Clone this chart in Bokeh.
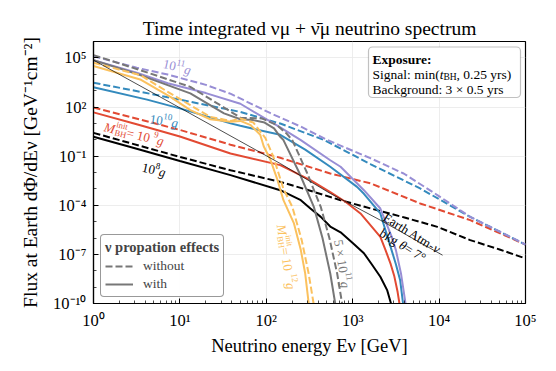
import math
from bokeh.plotting import figure
from bokeh.models import (Label, BoxAnnotation, Legend, LegendItem, FixedTicker,
                          CustomJSTickFormatter)
from bokeh.embed import file_html
from bokeh.resources import INLINE

# ---------------- data ----------------
# M_BH = 1e8 g
E_8_without = [1, 10, 38.5, 145, 316, 724, 1622, 3981, 9550, 22909, 50119, 1e5]
F_8_without = [2.63, 0.0891, 0.0138, 2.69e-3, 7.94e-4, 2.04e-4, 6.31e-5, 1.78e-5, 4.79e-6, 7.41e-7, 2.0e-7, 5.62e-8]
E_8_with = [1, 3.16, 10, 38.5, 145, 251, 324, 427, 550, 724, 1000, 1349, 1660, 2089, 2512, 2951]
F_8_with = [1.51, 0.282, 0.0501, 6.92e-3, 8.32e-4, 2.04e-4, 6.31e-5, 1.95e-5, 5.01e-6, 2.24e-6, 5.01e-7, 1.17e-7, 2.51e-8, 4.27e-9, 6.31e-10, 3.16e-11]

# M_BH = 1e9 g
E_9_without = [1, 10, 38.5, 145, 550, 1622, 6026, 22909, 1e5]
F_9_without = [93.3, 3.98, 0.501, 0.0794, 8.71e-3, 2.14e-3, 1.29e-4, 1.23e-5, 3.98e-7]
E_9_with = [1, 3.16, 10, 38.5, 145, 324, 550, 832, 1230, 2089, 2399, 2754, 3020, 3311, 3548]
F_9_with = [46.8, 8.91, 1.58, 0.145, 0.0282, 3.39e-3, 6.31e-4, 1.58e-4, 3.16e-5, 1.17e-6, 1.82e-7, 2.51e-8, 5.01e-9, 5.01e-10, 5.01e-11]

# M_BH = 1e10 g
E_10_without = [1, 3.47, 13.2, 50.1, 145, 468, 1622, 6026, 22909, 1e5]
F_10_without = [3020, 851, 209, 50.1, 9.77, 0.955, 0.0316, 1.07e-3, 1.95e-5, 3.98e-7]
E_10_with = [1, 4.17, 10.2, 38.5, 50.1, 145, 282, 550, 1122, 1349, 2089, 2818, 3162, 3548, 3890]
F_10_with = [1585, 282, 79.4, 10.0, 7.08, 2.0, 0.251, 0.0224, 1.32e-3, 5.01e-4, 3.16e-5, 1.82e-7, 2.51e-8, 2.51e-9, 5.01e-11]

# M_BH = 1e11 g
E_11_without = [1, 3.16, 7.24, 20.0, 38.9, 112, 251, 501, 1622, 3890, 9550, 22909, 1e5]
F_11_without = [1.26e5, 2.51e4, 9.55e3, 2.24e3, 631, 41.7, 6.31, 1.0, 0.0724, 8.71e-3, 4.17e-4, 1.95e-5, 3.98e-7]
E_11_with = [1, 3.16, 7.24, 20.0, 50.1, 145, 251, 550, 724, 1349, 2089, 2818, 3162, 3631, 4169]
F_11_with = [7.24e4, 1.26e4, 2.82e3, 708, 158, 5.62, 0.955, 0.0562, 0.0224, 8.32e-4, 6.31e-5, 1.26e-6, 1.82e-7, 6.31e-9, 5.01e-11]

# M_BH = 5e11 g
E_5e11_without = [1, 3.47, 13.2, 29.5, 50.1, 89.1, 132, 170, 200, 295, 427, 537, 661, 776]
F_5e11_without = [1.48e5, 1.78e4, 1.70e3, 126, 22.4, 20.0, 7.94, 2.51, 0.955, 0.01, 7.94e-5, 1e-6, 6.76e-9, 3.98e-11]
E_5e11_with = [1, 3.47, 13.2, 32.4, 50.1, 70.8, 95.5, 123, 145, 158, 240, 355, 447, 550, 646]
F_5e11_with = [7.24e4, 8.91e3, 676, 40.7, 17.8, 15.8, 11.2, 5.01, 1.51, 0.955, 0.01, 7.94e-5, 1e-6, 6.76e-9, 3.98e-11]

# M_BH = 1e12 g
E_12_without = [1, 3.47, 7.76, 13.2, 22.4, 38.9, 50.1, 70.8, 97.7, 120, 158, 200, 257, 309, 363]
F_12_without = [5.01e4, 8.91e3, 676, 129, 25.1, 14.1, 20.0, 11.2, 1.26, 0.1, 1e-3, 7.94e-5, 7.41e-7, 6.76e-9, 3.98e-11]
E_12_with = [1, 3.47, 7.76, 13.2, 22.4, 38.9, 50.1, 66.1, 85.1, 93.3, 112, 135, 158, 209, 251, 282, 316]
F_12_with = [3.16e4, 4.79e3, 417, 64.6, 17.8, 12.6, 14.1, 7.76, 2.0, 0.398, 0.0575, 3.39e-3, 2.04e-4, 7.76e-6, 1.82e-7, 6.76e-9, 3.98e-11]

# Earth atmospheric neutrino background, theta = 7 deg
E_atm = [1, 10, 145, 550, 2089, 10965]
F_atm = [7.24e4, 89.1, 0.0355, 5.25e-4, 1.23e-5, 8.91e-8]

COLORS = {"1e8": "#000000", "1e9": "#E24A33", "1e10": "#348ABD",
          "1e11": "#988ED5", "5e11": "#777777", "1e12": "#FBC15E"}

X_TICKS = [1, 10, 100, 1000, 1e4, 1e5]
Y_TICKS = [1e-10, 1e-7, 1e-4, 1e-1, 1e2, 1e5]

TITLE = "Time integrated \u03bd\u03bc + \u03bd\u0304\u03bc neutrino spectrum"
X_LABEL = "Neutrino energy E\u03bd [GeV]"
Y_LABEL = "Flux at Earth d\u03a6/dE\u03bd [GeV\u207b\u00b9cm\u207b\u00b2]"

# ---------------- figure ----------------
FONT = "Liberation Serif"
p = figure(width=548, height=363, x_axis_type="log", y_axis_type="log",
           x_range=(1, 1e5), y_range=(1e-10, 1e6),
           output_backend="svg", toolbar_location=None,
           min_border_left=93, min_border_right=23, min_border_top=41, min_border_bottom=60)
p.background_fill_color = "white"
p.border_fill_color = "white"
p.outline_line_color = "black"
p.outline_line_width = 1.2
p.outline_line_alpha = 1.0

p.title.text = TITLE
p.title.text_font = FONT
p.title.text_font_size = "19.5px"
p.title.text_font_style = "normal"
p.title.text_color = "black"
p.title.align = "center"
p.title.standoff = 6

xt = FixedTicker(ticks=X_TICKS, minor_ticks=[m * d for d in [1, 10, 100, 1000, 1e4] for m in range(2, 10)])
yt = FixedTicker(ticks=Y_TICKS, minor_ticks=[10.0 ** k for k in range(-10, 7)])
p.xaxis.ticker = xt
p.yaxis.ticker = yt
p.xgrid.ticker = xt
p.ygrid.ticker = yt
fmt_code = """
const s = {"0":"\u2070","1":"\u00b9","2":"\u00b2","3":"\u00b3","4":"\u2074","5":"\u2075","6":"\u2076","7":"\u2077","8":"\u2078","9":"\u2079","-":"\u207b"};
const e = Math.round(Math.log10(tick));
return "10" + String(e).split("").map(c => s[c]).join("");
"""
for ax in (p.xaxis[0], p.yaxis[0]):
    ax.formatter = CustomJSTickFormatter(code=fmt_code)
    ax.major_label_text_font = FONT
    ax.major_label_text_font_size = "16.5px"
    ax.major_label_text_color = "black"
    ax.axis_line_color = "black"
    ax.axis_line_width = 1.2
    ax.major_tick_in = 5
    ax.major_tick_out = 0
    ax.minor_tick_in = 3
    ax.minor_tick_out = 0
    ax.major_tick_line_color = "black"
    ax.minor_tick_line_color = "black"
    ax.major_tick_line_width = 1
    ax.minor_tick_line_width = 0.7
    ax.major_label_standoff = 7
    ax.axis_label_text_font = FONT
    ax.axis_label_text_font_style = "normal"
    ax.axis_label_text_color = "black"
p.xaxis.axis_label = X_LABEL
p.xaxis.axis_label_text_font_size = "18.5px"
p.xaxis.axis_label_standoff = 3
p.yaxis.axis_label = Y_LABEL
p.yaxis.axis_label_text_font_size = "19.5px"
p.yaxis.axis_label_standoff = 9
for g in (p.xgrid[0], p.ygrid[0]):
    g.grid_line_color = "#e8e8e8"
    g.grid_line_width = 0.8

# ---------------- curves ----------------
series = [
    ("1e8", E_8_without, F_8_without, E_8_with, F_8_with),
    ("1e9", E_9_without, F_9_without, E_9_with, F_9_with),
    ("1e10", E_10_without, F_10_without, E_10_with, F_10_with),
    ("1e11", E_11_without, F_11_without, E_11_with, F_11_with),
    ("5e11", E_5e11_without, F_5e11_without, E_5e11_with, F_5e11_with),
    ("1e12", E_12_without, F_12_without, E_12_with, F_12_with),
]
rends = {}
for key, Ed, Fd, Es, Fs in series:
    c = COLORS[key]
    rd = p.line(Ed, Fd, line_color=c, line_width=2, line_dash="7 3")
    rs = p.line(Es, Fs, line_color=c, line_width=2)
    rends[key] = (rd, rs)
p.line(E_atm, F_atm, line_color="black", line_width=0.7)

# ---------------- legend ----------------
legend = Legend(items=[LegendItem(label="without", renderers=[rends["5e11"][0]]),
                       LegendItem(label="with", renderers=[rends["5e11"][1]])],
                location=(7, 6), title="\u03bd propation effects")
legend.title_text_font = FONT
legend.title_text_font_style = "bold"
legend.title_text_font_size = "14.5px"
legend.label_text_font = FONT
legend.label_text_font_size = "13.5px"
legend.glyph_width = 28
legend.glyph_height = 12
legend.label_height = 12
legend.label_standoff = 10
legend.padding = 4
legend.spacing = 2
legend.title_standoff = 2
legend.margin = 0
legend.border_line_color = "#333333"
legend.border_line_width = 1.2
legend.background_fill_alpha = 0.9
try:
    legend.border_radius = 4
except Exception:
    pass
p.add_layout(legend)

# ---------------- annotations ----------------
def at(xp, yp):
    """pixel position in the page -> data coordinates of this frame"""
    return 10 ** ((xp - 93.0) / 86.4), 10 ** ((303.0 - yp) / 16.375 - 10)

W = {' ': .25, 'T': .611, 'i': .278, 'm': .778, 'e': .444, 'n': .5, 't': .278, 'g': .5, 'r': .333,
     'a': .444, 'd': .5, 'u': .5, 'o': .5, 's': .389, 'p': .5, 'c': .444, 'h': .5, 'l': .278,
     'y': .5, ':': .278, '(': .333, ')': .333, ',': .25, '.': .25, '+': .564, '=': .564,
     '\u00d7': .564, 'S': .556, 'B': .667, 'H': .722, 'E': .611, 'M': .889, 'F': .556, 'x': .5,
     'k': .5, 'b': .5, 'f': .333, 'v': .5, 'w': .722, 'G': .722, 'V': .722, '\u03a6': .76,
     '/': .278, '[': .333, ']': .333, '-': .333, '\u00b0': .4, '\u03b8': .5, '\u03bd': .5,
     '\u03bc': .55, 'A': .722, 'N': .722, '\u2212': .564, '\u0304': 0.0}


def width(t, s, st):
    return sum(W.get(ch, .5) for ch in t) * s * (1.06 if "bold" in st else 1.0)


def place(pieces, xp, yp, angle_deg=0.0, align="center", color="black"):
    x, y = at(xp, yp)
    a = math.radians(angle_deg)
    total = sum(width(t, s, st) for t, s, r, st, adv in pieces if adv)
    u = -total / 2 if align == "center" else 0.0
    for t, s, r, st, adv in pieces:
        dx = u * math.cos(a) - r * math.sin(a)
        dy = u * math.sin(a) + r * math.cos(a)
        p.add_layout(Label(x=x, y=y, x_offset=dx, y_offset=dy, text=t, angle=a,
                           text_font=FONT, text_font_size=f"{s}px", text_font_style=st,
                           text_color=color, text_align="left", text_baseline="alphabetic"))
        if adv:
            u += width(t, s, st)


def P(t, s, r=0, st="normal", adv=True):
    return (t, s, r, st, adv)

# curve labels
place([P("10", 13), P("11", 9, 5), P(" g", 13, 0, "italic")], 178, 67, -13, color=COLORS["1e11"])
place([P("10", 13), P("10", 9, 5), P(" g", 13, 0, "italic")], 165, 121, -8, color=COLORS["1e10"])
place([P("M", 13, 0, "italic"), P("init", 8.5, 5.5, "normal", False), P("BH", 8.5, -3),
       P(" = 10", 13), P("9", 9, 5), P(" g", 13, 0, "italic")], 135, 134, -14, color=COLORS["1e9"])
place([P("10", 13), P("8", 9, 5), P(" g", 13, 0, "italic")], 155, 170, -12, color=COLORS["1e8"])
place([P("5 \u00d7 10", 13), P("11", 9, 5), P(" g", 13, 0, "italic")], 342, 265, -81, color=COLORS["5e11"])
place([P("M", 13, 0, "italic"), P("init", 8.5, 5.5, "normal", False), P("BH", 8.5, -3),
       P(" = 10", 13), P("12", 9, 5), P(" g", 13, 0, "italic")], 286, 258, -81, color=COLORS["1e12"])
place([P("Earth Atm-", 13, 3), P("\u03bd", 13, 3, "italic")], 410, 235.3, -31.6)
place([P("bkg ", 13, -12), P("\u03b8", 13, -12, "italic"), P(" = 7\u00b0", 13, -12)], 410, 235.3, -31.6)

# exposure box
bl, bt = at(368, 46.5)
br, bb = at(520, 97)
box = BoxAnnotation(left=bl, right=br, top=bt, bottom=bb, fill_color="white", fill_alpha=1.0,
                    line_color="#333333", line_width=1.2)
try:
    box.border_radius = 4
except Exception:
    pass
p.add_layout(box)
place([P("Exposure:", 13.5, 0, "bold")], 372, 58.5, 0, "left")
place([P("Signal: min(", 13.5), P("t", 13.5, 0, "italic"), P("BH", 9.5, -3), P(", 0.25 yrs)", 13.5)],
      372, 73.5, 0, "left")
place([P("Background: 3 \u00d7 0.5 yrs", 13.5)], 372, 88.5, 0, "left")

open("out.html", "w").write(file_html(p, INLINE))
